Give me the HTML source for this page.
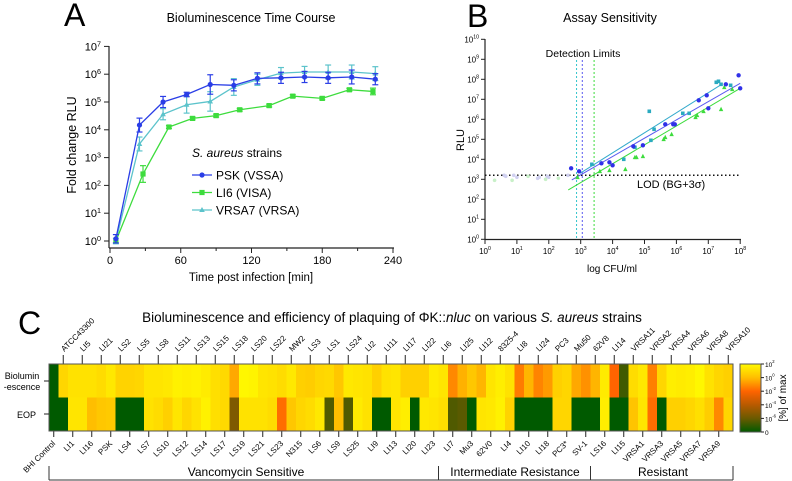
<!DOCTYPE html>
<html><head><meta charset="utf-8"><style>
html,body{margin:0;padding:0;background:#fff}
svg{display:block;font-family:"Liberation Sans",sans-serif}
</style></head><body>
<svg id="fig" width="792" height="481" viewBox="0 0 792 481" xmlns="http://www.w3.org/2000/svg">
<g id="pA">
<text x="64" y="26" font-size="32">A</text>
<text x="251" y="22" font-size="12.5" text-anchor="middle">Bioluminescence Time Course</text>
<text transform="translate(76,145) rotate(-90)" font-size="12.5" text-anchor="middle">Fold change RLU</text>
<text x="251" y="281" font-size="11.5" text-anchor="middle">Time post infection [min]</text>
<text x="192" y="157" font-size="12"><tspan font-style="italic">S. aureus</tspan> strains</text>
</g>
<g id="pB">
<text x="467" y="27" font-size="32">B</text>
<text x="610" y="22" font-size="12.5" text-anchor="middle">Assay Sensitivity</text>
<text transform="translate(464,140) rotate(-90)" font-size="11" text-anchor="middle">RLU</text>
<text x="612" y="272" font-size="10" text-anchor="middle">log CFU/ml</text>
<text x="583" y="57" font-size="10.5" text-anchor="middle">Detection Limits</text>
<text x="637" y="188" font-size="11">LOD (BG+3σ)</text>
</g>
<g id="pC">
<text x="18" y="334" font-size="32">C</text>
<text x="392" y="322" font-size="13.5" text-anchor="middle">Bioluminescence and efficiency of plaquing of ΦK::<tspan font-style="italic">nluc</tspan> on various <tspan font-style="italic">S. aureus</tspan> strains</text>
<text x="22" y="379" font-size="9" text-anchor="middle">Biolumin</text>
<text x="22" y="390" font-size="9" text-anchor="middle">-escence</text>
<text x="36" y="418" font-size="9" text-anchor="end">EOP</text>
<text transform="translate(786,398) rotate(-90)" font-size="10" text-anchor="middle">[%] of max</text>
<text x="246" y="476" font-size="12" text-anchor="middle">Vancomycin Sensitive</text>
<text x="515" y="476" font-size="12" text-anchor="middle">Intermediate Resistance</text>
<text x="663" y="476" font-size="12" text-anchor="middle">Resistant</text>
</g>
</svg>
<script>
// ---------- Panel A data ----------
const timesPSK = [5,25,45,65,85,105,125,145,165,185,205,225];
const valsPSK = [0.08,4.17,5.0,5.27,5.63,5.6,5.85,5.87,5.9,5.87,5.9,5.82];
const errPSK = [0.15,0.25,0.2,0.08,0.35,0.2,0.2,0.2,0.2,0.2,0.25,0.2];
const timesVRSA7 = [5,25,45,65,85,105,125,145,165,185,205,225];
const valsVRSA7 = [0.0,3.49,4.56,4.9,5.02,5.54,5.8,6.04,6.08,6.08,6.08,6.02];
const errVRSA7 = [0.1,0.25,0.2,0.3,0.35,0.3,0.2,0.2,0.2,0.25,0.25,0.25];
const timesLI6 = [5,28,50,70,90,110,135,155,180,203,223];
const valsLI6 = [0.0,2.41,4.1,4.41,4.51,4.72,4.87,5.21,5.13,5.44,5.38];
const errLI6 = [0,0.3,0.05,0.05,0.05,0.05,0.05,0.05,0.05,0.05,0.12];
const xTicksA = [0,60,120,180,240];
const yTicksA = [0,1,2,3,4,5,6,7];
const legendNames = ["PSK (VSSA)","LI6 (VISA)","VRSA7 (VRSA)"];

// ---------- Panel B data ----------
const bluePtsX = [2.7,2.95,3.65,3.9,4.0,4.65,4.95,5.65,5.9,5.95,6.7,6.95,7.0,7.55,7.95,8.0];
const bluePtsY = [3.55,3.4,3.8,3.85,3.7,4.65,4.7,5.75,5.75,5.75,6.95,7.2,6.55,7.75,8.2,7.55];
const cyanPtsX = [3.35,4.35,4.7,5.2,5.3,5.15,6.2,6.4,7.25,7.32,7.4,7.7];
const cyanPtsY = [3.75,4.0,4.6,4.95,5.5,6.4,6.3,6.3,7.85,7.9,7.75,7.7];
const greenPtsX = [2.9,3.6,3.9,4.4,4.7,4.75,4.95,5.6,5.65,5.85,6.6,6.65,6.85,7.4,7.5,7.75];
const greenPtsY = [3.1,3.4,3.45,3.5,4.1,4.1,4.15,5.0,5.1,5.25,6.1,6.2,6.4,6.5,7.6,7.5];
const faintPtsX = [0.3,0.6,0.65,0.85,0.9,1.0,1.35,1.65,1.7,1.9,1.95,2.0,2.3,2.6];
const faintPtsY = [2.95,3.2,3.15,2.95,3.2,3.1,3.15,3.05,3.1,3.0,3.15,3.1,3.05,3.2];
const lineBlue = [2.72,2.97,8.0,7.8];
const lineCyan = [2.98,3.3,7.37,7.7];
const lineGreen = [2.61,2.47,8.0,7.55];
const detectLimits = [2.87,3.05,3.42];
const lodValue = 3.2;
const xTicksB = [0,1,2,3,4,5,6,7,8];
const yTicksB = [0,1,2,3,4,5,6,7,8,9,10];

// ---------- Panel C data ----------
const strains = ["BHI Control","ATCC43300","LI1","LI5","LI16","LI21","PSK","LS2","LS4","LS5","LS7","LS8","LS10","LS11","LS12","LS13","LS14","LS15","LS17","LS18","LS19","LS20","LS21","LS22","LS23","MW2","N315","LS3","LS6","LS1","LS9","LS24","LS25","LI2","LI9","LI11","LI13","LI17","LI20","LI22","LI23","LI6","LI7","LI25","Mu3","LI12","62V0","8325-4","LI4","LI8","LI10","LI24","LI18","PC3","PC3*","Mu50","SV-1","62V8","LS16","LI14","LI15","VRSA11","VRSA1","VRSA2","VRSA3","VRSA4","VRSA5","VRSA6","VRSA7","VRSA8","VRSA9","VRSA10"];
const biolum = [-8,0.8,1.2,1.2,1.2,1.0,1.4,0.7,0.7,0.8,1.3,1.3,1.4,1.7,1.6,1.7,1.5,1.1,0.9,-0.5,1.9,1.8,1.3,1.2,1.0,1.4,0.6,0.5,0.8,0.9,0.3,1.4,1.3,1.2,0.6,1.2,1.3,0.6,0.6,0.6,1.5,1.3,-1.2,-0.3,0.3,-0.2,1.3,1.6,1.2,-1.5,-0.2,-1.3,-0.8,0.6,0.8,-0.5,-1.0,-0.2,1.5,-2.0,-6.8,1.0,1.4,-1.4,0.8,1.6,1.5,1.6,1.9,1.2,0.8,0.6];
const eop = [-8,-8,1.3,1.3,0.0,0.3,0.4,-8,-8,-8,1.2,1.0,0.6,1.3,0.8,1.2,1.7,1.1,0.9,-5.5,1.2,1.2,1.2,1.0,-1.8,0.3,0.8,1.0,1.4,-6.5,0.0,-6.5,1.5,1.2,-8,-8,1.3,1.6,-8,1.4,1.3,1.1,-6.5,-6.3,-8,1.3,1.4,1.7,0.7,-8,-8,-8,-8,0.8,0.8,-8,-8,-8,1.6,-8,-8,0.2,1.3,-1.8,-8,0.6,0.6,0.8,1.1,0.5,-1.2,0.8];
const cbLabels = ["10^2","10^0","10^-2","10^-4","10^-6","0"];
const groupBounds = [0,41,57,72];

const NS="http://www.w3.org/2000/svg";
const svg=document.getElementById('fig');
function mk(tag,attrs,parent){const e=document.createElementNS(NS,tag);for(const k in attrs)e.setAttribute(k,attrs[k]);(parent||svg).appendChild(e);return e;}
function supText(parent,x,y,base,exp,anchor,fs){const t=mk('text',{x:x,y:y,'font-size':fs,'text-anchor':anchor},parent);t.textContent=base;const s=mk('tspan',{dy:-4,'font-size':fs*0.65},t);s.textContent=exp;return t;}

// ===== Panel A =====
const gA=document.getElementById('pA');
const ax=t=>110+t*(283/240);
const ay=v=>241-v*27.8;
mk('line',{x1:109,y1:46,x2:109,y2:248,stroke:'#222','stroke-width':1.2},gA);
mk('line',{x1:109,y1:248,x2:394,y2:248,stroke:'#222','stroke-width':1.2},gA);
yTicksA.forEach(v=>{
  const tk=mk('line',{x1:104,y1:ay(v),x2:109,y2:ay(v),stroke:'#222'},gA);
  
  
  const lb=supText(gA,101,ay(v)+4,'10',String(v),'end',11);
  
  
});
xTicksA.forEach(t=>{
  const tk=mk('line',{x1:ax(t),y1:248,x2:ax(t),y2:253,stroke:'#222'},gA);
  
  
  const lb=mk('text',{x:ax(t),y:264,'font-size':11,'text-anchor':'middle'},gA);
  lb.textContent=t;
  
  
});
[30,90,150,210].forEach(t=>{mk('line',{x1:ax(t),y1:248,x2:ax(t),y2:251,stroke:'#222'},gA);});
function seriesA(ts,vs,es,color,marker,name){
  const g=mk('g',{},gA);
  
  
  mk('polyline',{points:ts.map((t,i)=>ax(t)+','+ay(vs[i])).join(' '),fill:'none',stroke:color,'stroke-width':1.3},g);
  ts.forEach((t,i)=>{
    if(es[i]>0){
      const x=ax(t);
      mk('line',{x1:x,y1:ay(vs[i]+es[i]),x2:x,y2:ay(vs[i]-es[i]),stroke:color,'stroke-width':1.2},g);
      mk('line',{x1:x-3,y1:ay(vs[i]+es[i]),x2:x+3,y2:ay(vs[i]+es[i]),stroke:color,'stroke-width':1.2},g);
      mk('line',{x1:x-3,y1:ay(vs[i]-es[i]),x2:x+3,y2:ay(vs[i]-es[i]),stroke:color,'stroke-width':1.2},g);
    }
    let m;
    if(marker==='c') m=mk('circle',{cx:ax(t),cy:ay(vs[i]),r:2.6,fill:color},g);
    else if(marker==='s') m=mk('rect',{x:ax(t)-2.6,y:ay(vs[i])-2.6,width:5.2,height:5.2,fill:color},g);
    else m=mk('polygon',{points:`${ax(t)},${ay(vs[i])-3} ${ax(t)-2.8},${ay(vs[i])+2} ${ax(t)+2.8},${ay(vs[i])+2}`,fill:color},g);
    
    
  });
}
seriesA(timesVRSA7,valsVRSA7,errVRSA7,'#5cc3cb','t','vrsa7');
seriesA(timesLI6,valsLI6,errLI6,'#3ddc3d','s','li6');
seriesA(timesPSK,valsPSK,errPSK,'#2a3ee6','c','psk');
const legColors=['#2a3ee6','#3ddc3d','#5cc3cb'];const legMk=['c','s','t'];
legendNames.forEach((n,i)=>{
  const y=175+i*17.5;
  const g=mk('g',{},gA);
  
  
  mk('line',{x1:192,y1:y,x2:212,y2:y,stroke:legColors[i],'stroke-width':1.3},g);
  if(legMk[i]==='c')mk('circle',{cx:202,cy:y,r:2.6,fill:legColors[i]},g);
  else if(legMk[i]==='s')mk('rect',{x:199.4,y:y-2.6,width:5.2,height:5.2,fill:legColors[i]},g);
  else mk('polygon',{points:`202,${y-3} 199.2,${y+2} 204.8,${y+2}`,fill:legColors[i]},g);
  const t=mk('text',{x:216,y:y+4.5,'font-size':12},g);t.textContent=n;
});

// ===== Panel B =====
const gB=document.getElementById('pB');
const bx=v=>485+v*31.9;
const by=v=>239.3-v*20;
mk('line',{x1:485,y1:39,x2:485,y2:240,stroke:'#222','stroke-width':1.2},gB);
mk('line',{x1:485,y1:239.5,x2:741,y2:239.5,stroke:'#222','stroke-width':1.2},gB);
yTicksB.forEach(v=>{
  mk('line',{x1:481,y1:by(v),x2:485,y2:by(v),stroke:'#222'},gB);
  const lb=supText(gB,479,by(v)+3,'10',String(v),'end',8);
  
  
});
xTicksB.forEach(v=>{
  mk('line',{x1:bx(v),y1:239.5,x2:bx(v),y2:244,stroke:'#222'},gB);
  const lb=supText(gB,bx(v),254,'10',String(v),'middle',8);
  
  
});
const lod=mk('line',{x1:485,y1:by(lodValue),x2:740,y2:by(lodValue),stroke:'#111','stroke-width':1.5,'stroke-dasharray':'1.5,2.5'},gB);


const dlCol=['#33c4cc','#5a5af0','#3ddc3d'];
detectLimits.forEach((v,i)=>{
  const l=mk('line',{x1:bx(v),y1:60,x2:bx(v),y2:239,stroke:dlCol[i],'stroke-width':1,'stroke-dasharray':'2,2'},gB);
  
  
});
faintPtsX.forEach((x,i)=>{
  const c=mk('circle',{cx:bx(x),cy:by(faintPtsY[i]),r:1.8,fill:i%3===0?'#c8f0c8':'#d0d0f0'},gB);
  
  
});
function regLine(a,color,name){const l=mk('line',{x1:bx(a[0]),y1:by(a[1]),x2:bx(a[2]),y2:by(a[3]),stroke:color,'stroke-width':1},gB);}
regLine(lineCyan,'#33aacc','fit-line-cyan');
regLine(lineBlue,'#5a5af0','fit-line-blue');
regLine(lineGreen,'#3ddc3d','fit-line-green');
function ptsB(xs,ys,color,shape,name){xs.forEach((x,i)=>{let m;
  if(shape==='c')m=mk('circle',{cx:bx(x),cy:by(ys[i]),r:2.2,fill:color},gB);
  else if(shape==='t')m=mk('polygon',{points:`${bx(x)},${by(ys[i])-2.5} ${bx(x)-2.2},${by(ys[i])+1.8} ${bx(x)+2.2},${by(ys[i])+1.8}`,fill:color},gB);
  else m=mk('rect',{x:bx(x)-1.8,y:by(ys[i])-1.8,width:3.6,height:3.6,fill:color},gB);
  
  });}
ptsB(greenPtsX,greenPtsY,'#3ddc3d','t','green');
ptsB(cyanPtsX,cyanPtsY,'#2aaac0','s','cyan');
ptsB(bluePtsX,bluePtsY,'#3030e8','c','blue');

// ===== Panel C =====
const gC=document.getElementById('pC');
const hx0=49,hw=(733-49)/strains.length,hTop=364,hMid=397.5,hBot=431;
const stops=[[2,[255,250,0]],[0,[255,190,0]],[-2,[255,100,0]],[-4,[184,90,0]],[-6,[106,90,0]],[-8,[0,90,0]]];
function col(v){if(v>=2)return 'rgb(255,250,0)';for(let i=0;i<stops.length-1;i++){const [a,ca]=stops[i],[b,cb]=stops[i+1];if(v<=a&&v>=b){const f=(a-v)/(a-b);return `rgb(${ca.map((c,j)=>Math.round(c+(cb[j]-c)*f)).join(',')})`;}}return 'rgb(0,90,0)';}
strains.forEach((s,i)=>{
  const x=hx0+i*hw;
  const r1=mk('rect',{x:x,y:hTop,width:hw+0.4,height:hMid-hTop,fill:col(biolum[i])},gC);
  
  
  const r2=mk('rect',{x:x,y:hMid,width:hw+0.4,height:hBot-hMid,fill:col(eop[i])},gC);
  
  
  const cx=x+hw/2;
  if(i%2===1){
    mk('line',{x1:cx,y1:355,x2:cx,y2:hTop,stroke:'#222'},gC);
    const t=mk('text',{x:cx+1,y:352,'font-size':8,transform:`rotate(-45 ${cx+1} 352)`},gC);
    t.textContent=s;
    
    
  } else {
    mk('line',{x1:cx,y1:hBot,x2:cx,y2:437,stroke:'#222'},gC);
    const t=mk('text',{x:cx+2,y:444,'font-size':8,'text-anchor':'end',transform:`rotate(-45 ${cx+2} 444)`},gC);
    t.textContent=s;
    
    
  }
});
mk('rect',{x:hx0,y:hTop,width:733-hx0,height:hBot-hTop,fill:'none',stroke:'#555','stroke-width':1},gC);
mk('line',{x1:44,y1:381,x2:49,y2:381,stroke:'#222'},gC);
mk('line',{x1:44,y1:414,x2:49,y2:414,stroke:'#222'},gC);
const cbg=mk('linearGradient',{id:'cbgrad',x1:0,y1:0,x2:0,y2:1},svg);
stops.forEach(([v,c])=>{mk('stop',{offset:(2-v)/10,'stop-color':`rgb(${c.join(',')})`},cbg);});
const cb=mk('rect',{x:740,y:364,width:21,height:68,fill:'url(#cbgrad)',stroke:'#555'},gC);


cbLabels.forEach((l,i)=>{
  const y=364+i*68/5;
  mk('line',{x1:761,y1:y,x2:764,y2:y,stroke:'#222'},gC);
  let t;
  if(l==='0'){t=mk('text',{x:765,y:y+3,'font-size':6.5},gC);t.textContent='0';}
  else t=supText(gC,765,y+3,'10',l.split('^')[1],'start',6.5);
  
  
});
for(let k=0;k<groupBounds.length;k++){const x=hx0+groupBounds[k]*hw;mk('line',{x1:x,y1:466,x2:x,y2:480,stroke:'#333'},gC);}
mk('line',{x1:hx0,y1:480,x2:733,y2:480,stroke:'#333'},gC);
</script>
</body></html>
